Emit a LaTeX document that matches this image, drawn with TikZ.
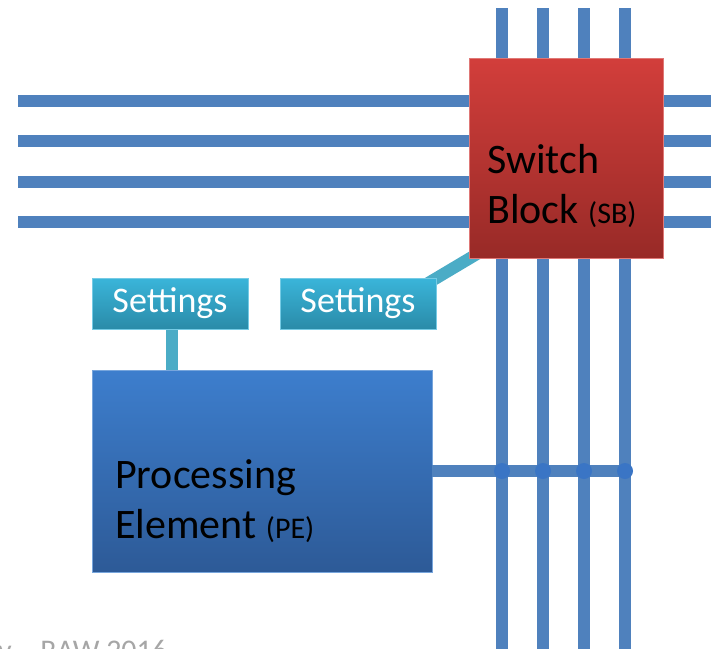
\documentclass[tikz,border=0pt]{standalone}
\usepackage{fontspec}
\setmainfont{Carlito}
\definecolor{wireblue}{HTML}{4F81BD}
\definecolor{linkteal}{HTML}{4BACC6}
\definecolor{sbtop}{HTML}{D23E3B}
\definecolor{sbbot}{HTML}{982A27}
\definecolor{petop}{HTML}{3D7ECD}
\definecolor{pebot}{HTML}{2D5A97}
\definecolor{settop}{HTML}{3AB5DA}
\definecolor{setbot}{HTML}{2A8BA8}
\definecolor{dotblue}{HTML}{3A75C5}
\definecolor{footgray}{HTML}{A6A6A6}
\newcommand\abbrfont{\fontsize{30}{34}\selectfont}
\pgfdeclarelayer{back}
\pgfsetlayers{back,main}
\begin{document}
\begin{tikzpicture}[x=1pt,y=-1pt,
  wire/.style={line width=12pt, draw=wireblue},
  link/.style={line width=12pt, draw=linkteal},
  sbbox/.style={rectangle, draw=sbtop!70!white, line width=0.8pt, top color=sbtop, bottom color=sbbot, minimum width=194pt, minimum height=200pt, inner sep=0pt},
  pebox/.style={rectangle, draw=petop!70!white, line width=0.8pt, top color=petop, bottom color=pebot, minimum width=340pt, minimum height=202pt, inner sep=0pt},
  setbox/.style={rectangle, draw=settop!70!white, line width=0.8pt, top color=settop, bottom color=setbot, minimum width=156pt, minimum height=51pt, inner sep=0pt},
  bigtext/.style={anchor=base west, inner sep=0pt, font=\fontsize{42}{48}\selectfont, text=black},
  settext/.style={anchor=base, inner sep=0pt, font=\fontsize{36}{42}\selectfont, text=white},
  junction/.style={circle, fill=dotblue, minimum size=16pt, inner sep=0pt}
]
\useasboundingbox (0,0) rectangle (711,648);
\clip (0,0) rectangle (711,648);

% boxes
\node[sbbox] (sb) at (566,158) {};
\node[pebox] (pe) at (262,471) {};
\node[setbox] (set1) at (170,303.5) {};
\node[setbox] (set2) at (358,303.5) {};

\begin{pgfonlayer}{back}
  \fill[white] (0,0) rectangle (711,648);
  % horizontal wires
  \foreach \yy in {101,141,182,222} \draw[wire] (18,\yy) -- (720,\yy);
  % vertical wires
  \foreach \xx in {502,543,584,625} \draw[wire] (\xx,8) -- (\xx,660);
  % settings links
  \draw[link] ([xshift=-21pt,yshift=-13pt]set2.north east) -- ([xshift=11pt,yshift=6pt]sb.south west);
  \draw[link] ([xshift=2pt]set1.center) -- ([xshift=2pt]pe.north -| set1.south);
\end{pgfonlayer}

% PE connection to vertical wires
\coordinate (pend) at (625,471);
\draw[wire] (pe.east) -- (pend);
\foreach \xx [count=\i] in {502,543,584,625} \node[junction] (j\i) at (\xx,471) {};

% texts
\node[bigtext] (sbt1) at (487,173) {Switch};
\node[bigtext] (sbt2) at (487,223) {Block {\abbrfont(SB)}};
\node[bigtext] (pet1) at (115,488) {Processing};
\node[bigtext] (pet2) at (115,538) {Element {\abbrfont(PE)}};
\node[settext] (st1) at (170,312) {Settings};
\node[settext] (st2) at (358,312) {Settings};

\node[anchor=base west, inner sep=0pt, font=\fontsize{30}{36}\selectfont, text=footgray] (foot) at (-2,660) {y – RAW 2016};
\end{tikzpicture}
\end{document}
